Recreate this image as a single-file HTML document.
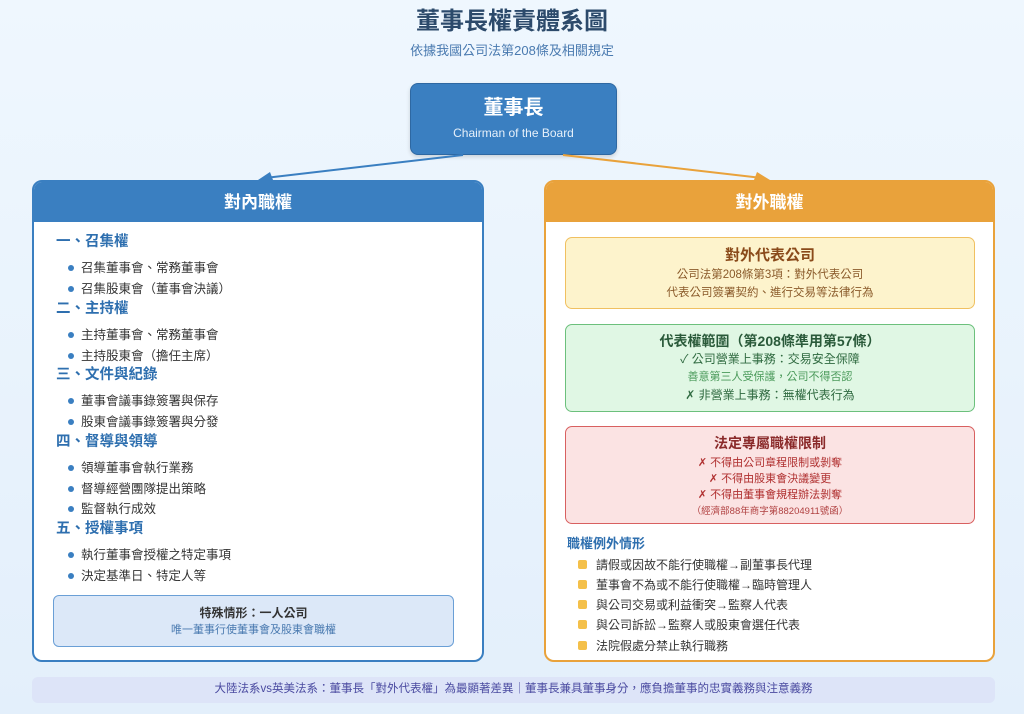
<!DOCTYPE html>
<html><head><meta charset="utf-8"><style>
*{margin:0;padding:0;box-sizing:border-box}
body{width:1024px;height:714px;overflow:hidden;background:linear-gradient(#eff7fe,#e3effb);font-family:"Liberation Sans","Noto Sans CJK TC",sans-serif;position:relative}
.a{position:absolute}
.c{position:absolute;left:0;right:0;text-align:center;line-height:1}
.t{position:absolute;white-space:nowrap;line-height:1}
.h{color:#2e6faf;font-weight:bold;font-size:14.5px;left:22px}
.i{color:#333;font-size:12.5px;left:47px}
.d{position:absolute;left:34px;width:6px;height:6px;border-radius:50%;background:#3a7fc1}
.e{color:#333;font-size:12px;left:50px}
.s{position:absolute;left:32px;width:9px;height:9px;border-radius:2px;background:#f4c04a}
</style></head><body>
<div class="c" style="top:10px;font-size:24px;font-weight:bold;color:#2c4a6b">董事長權責體系圖</div>
<div class="c" style="top:44px;font-size:13px;color:#4a7ab0">依據我國公司法第208條及相關規定</div>

<div class="a" style="left:410px;top:83px;width:207px;height:72px;background:#3a7fc1;border:1.5px solid #2e68a2;border-radius:8px;box-shadow:0 2px 4px rgba(0,0,0,.15)">
<div class="c" style="top:14px;font-size:20px;font-weight:bold;color:#fff">董事長</div>
<div class="c" style="top:43px;font-size:12px;color:#e6f0fa">Chairman of the Board</div></div>

<svg class="a" style="left:0;top:0" width="1024" height="200">
<line x1="463" y1="155" x2="265" y2="178" stroke="#3a7fc1" stroke-width="2"/>
<polygon points="258,180 270,172 273,180" fill="#3a7fc1"/>
<line x1="563" y1="155" x2="762" y2="178" stroke="#e9a23b" stroke-width="2"/>
<polygon points="770,180 754,180 757,172" fill="#e9a23b"/>
</svg>

<div class="a" style="left:32px;top:180px;width:452px;height:482px;background:#fff;border:2px solid #3a7fc1;border-radius:10px;overflow:hidden">
<div class="a" style="left:0;top:0;right:0;height:40px;background:#3a7fc1"><div class="c" style="top:12px;font-size:17px;font-weight:bold;color:#fff">對內職權</div></div>
<div class="t h" style="top:53px">一、召集權</div>
<div class="d" style="top:83px"></div><div class="t i" style="top:80px">召集董事會、常務董事會</div>
<div class="d" style="top:104px"></div><div class="t i" style="top:101px">召集股東會（董事會決議）</div>
<div class="t h" style="top:120px">二、主持權</div>
<div class="d" style="top:150px"></div><div class="t i" style="top:147px">主持董事會、常務董事會</div>
<div class="d" style="top:171px"></div><div class="t i" style="top:168px">主持股東會（擔任主席）</div>
<div class="t h" style="top:186px">三、文件與紀錄</div>
<div class="d" style="top:216px"></div><div class="t i" style="top:213px">董事會議事錄簽署與保存</div>
<div class="d" style="top:237px"></div><div class="t i" style="top:234px">股東會議事錄簽署與分發</div>
<div class="t h" style="top:253px">四、督導與領導</div>
<div class="d" style="top:283px"></div><div class="t i" style="top:280px">領導董事會執行業務</div>
<div class="d" style="top:304px"></div><div class="t i" style="top:301px">督導經營團隊提出策略</div>
<div class="d" style="top:324px"></div><div class="t i" style="top:321px">監督執行成效</div>
<div class="t h" style="top:340px">五、授權事項</div>
<div class="d" style="top:370px"></div><div class="t i" style="top:367px">執行董事會授權之特定事項</div>
<div class="d" style="top:391px"></div><div class="t i" style="top:388px">決定基準日、特定人等</div>
<div class="a" style="left:19px;top:413px;width:401px;height:52px;background:#dce8f8;border:1.5px solid #6a9fd6;border-radius:6px">
<div class="c" style="top:11px;font-size:12px;font-weight:bold;color:#333">特殊情形：一人公司</div>
<div class="c" style="top:29px;font-size:11px;color:#4a7ab0">唯一董事行使董事會及股東會職權</div></div>
</div>

<div class="a" style="left:544px;top:180px;width:451px;height:482px;background:#fff;border:2px solid #e9a23b;border-radius:10px;overflow:hidden">
<div class="a" style="left:0;top:0;right:0;height:40px;background:#e9a23b"><div class="c" style="top:12px;font-size:17px;font-weight:bold;color:#fff">對外職權</div></div>
<div class="a" style="left:19px;top:55px;width:410px;height:72px;background:#fdf3cc;border:1.5px solid #f0c060;border-radius:7px">
<div class="c" style="top:10px;font-size:15px;font-weight:bold;color:#8a4a1a">對外代表公司</div>
<div class="c" style="top:32px;font-size:11.5px;color:#8a5a2a">公司法第208條第3項：對外代表公司</div>
<div class="c" style="top:50px;font-size:11.5px;color:#8a5a2a">代表公司簽署契約、進行交易等法律行為</div></div>
<div class="a" style="left:19px;top:142px;width:410px;height:88px;background:#e0f7e4;border:1.5px solid #6cc07c;border-radius:7px">
<div class="c" style="top:9px;font-size:14px;font-weight:bold;color:#2a5a3a">代表權範圍（第208條準用第57條）</div>
<div class="c" style="top:28px;font-size:12px;color:#2f6a40">✓ 公司營業上事務：交易安全保障</div>
<div class="c" style="top:47px;font-size:11px;color:#4a9a5a">善意第三人受保護，公司不得否認</div>
<div class="c" style="top:64px;font-size:12px;color:#2f6a40">✗ 非營業上事務：無權代表行為</div></div>
<div class="a" style="left:19px;top:244px;width:410px;height:98px;background:#fbe3e3;border:1.5px solid #d86060;border-radius:7px">
<div class="c" style="top:9px;font-size:14px;font-weight:bold;color:#8a2a2a">法定專屬職權限制</div>
<div class="c" style="top:31px;font-size:11px;color:#b03030">✗ 不得由公司章程限制或剝奪</div>
<div class="c" style="top:47px;font-size:11px;color:#b03030">✗ 不得由股東會決議變更</div>
<div class="c" style="top:63px;font-size:11px;color:#b03030">✗ 不得由董事會規程辦法剝奪</div>
<div class="c" style="top:80px;font-size:9.5px;color:#b04040">（經濟部88年商字第88204911號函）</div></div>
<div class="t" style="left:21px;top:355px;font-size:13px;font-weight:bold;color:#2e6faf">職權例外情形</div>
<div class="s" style="top:378px"></div><div class="t e" style="top:377px">請假或因故不能行使職權→副董事長代理</div>
<div class="s" style="top:398px"></div><div class="t e" style="top:397px">董事會不為或不能行使職權→臨時管理人</div>
<div class="s" style="top:418px"></div><div class="t e" style="top:417px">與公司交易或利益衝突→監察人代表</div>
<div class="s" style="top:438px"></div><div class="t e" style="top:437px">與公司訴訟→監察人或股東會選任代表</div>
<div class="s" style="top:459px"></div><div class="t e" style="top:458px">法院假處分禁止執行職務</div>
</div>

<div class="a" style="left:32px;top:677px;width:963px;height:26px;background:#dde4f8;border-radius:6px">
<div class="c" style="top:7px;font-size:11.5px;color:#4a4aa0">大陸法系vs英美法系：董事長「對外代表權」為最顯著差異｜董事長兼具董事身分，應負擔董事的忠實義務與注意義務</div></div>
</body></html>
